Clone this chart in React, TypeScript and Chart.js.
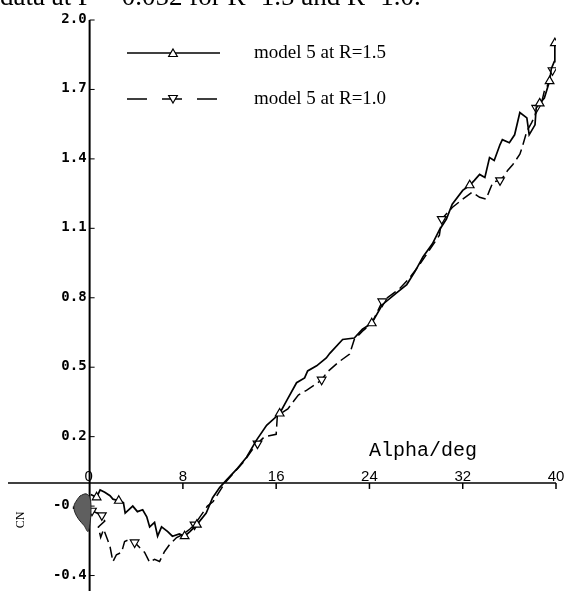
import React, { useEffect, useRef } from 'react';
import { Chart, registerables } from 'chart.js';

Chart.register(...registerables);

// Axis ticks
const alphaTicks = [0, 8, 16, 24, 32, 40];
const cnTicks = [2.0, 1.7, 1.4, 1.1, 0.8, 0.5, 0.2, -0.1, -0.4];

const caption = 'data at P = 0.052 for R=1.5 and R=1.0.';
const seriesLabels = ['model 5 at R=1.5', 'model 5 at R=1.0'];

// Model 5 at R=1.5: [alpha (deg), CN]
const model5R15: [number, number][] = [
  [0.1, -0.05], [0.6, -0.062], [0.9, -0.03], [1.3, -0.04], [1.75, -0.055], [2.0, -0.07],
  [2.5, -0.077], [2.9, -0.085], [3.05, -0.13], [3.7, -0.1], [4.1, -0.124], [4.55, -0.116],
  [4.9, -0.146], [5.15, -0.19], [5.57, -0.17], [5.83, -0.23], [6.17, -0.19], [6.7, -0.21],
  [7.1, -0.23], [7.7, -0.22], [8.15, -0.23], [8.6, -0.21], [9.2, -0.18], [10.0, -0.13],
  [10.55, -0.064], [11.15, -0.02], [11.75, 0.013], [12.7, 0.064], [13.46, 0.111], [14.3, 0.184],
  [15.18, 0.249], [16.3, 0.3], [16.9, 0.356], [17.75, 0.433], [18.44, 0.454], [18.7, 0.484],
  [19.47, 0.506], [20.3, 0.54], [20.6, 0.56], [21.7, 0.62], [22.7, 0.626], [23.4, 0.664],
  [24.2, 0.69], [25.1, 0.77], [26.3, 0.82], [27.2, 0.857], [27.9, 0.913], [28.6, 0.977],
  [29.4, 1.033], [30.0, 1.093], [30.6, 1.14], [31.1, 1.204], [32.0, 1.264], [32.6, 1.286],
  [33.0, 1.307], [33.45, 1.333], [33.9, 1.32], [34.3, 1.406], [34.7, 1.393], [35.2, 1.462],
  [35.4, 1.483], [36.0, 1.47], [36.45, 1.504], [36.9, 1.6], [37.5, 1.577], [37.7, 1.504],
  [38.2, 1.547], [38.3, 1.62], [38.6, 1.64], [39.0, 1.663], [39.45, 1.736], [39.6, 1.79],
  [39.85, 1.82], [39.9, 1.9],
];
const model5R15Marks = [0.6, 2.5, 8.15, 9.2, 16.3, 24.2, 32.6, 38.6, 39.45, 39.9];

// Model 5 at R=1.0: [alpha (deg), CN]
const model5R10: [number, number][] = [
  [0.2, -0.12], [1.05, -0.14], [1.3, -0.165], [0.75, -0.19], [0.95, -0.235], [1.2, -0.2],
  [1.5, -0.24], [1.75, -0.275], [2.0, -0.34], [2.3, -0.31], [2.74, -0.3], [3.0, -0.253],
  [3.43, -0.244], [3.86, -0.257], [4.29, -0.279], [4.72, -0.3], [5.15, -0.343], [5.57, -0.33],
  [6.0, -0.339], [6.43, -0.296], [6.86, -0.266], [7.46, -0.236], [7.98, -0.223], [8.58, -0.2],
  [9.0, -0.18], [9.6, -0.137], [10.1, -0.1], [10.6, -0.08], [11.6, 0.0], [12.3, 0.04],
  [13.2, 0.09], [13.9, 0.14], [14.4, 0.17], [15.0, 0.2], [16.0, 0.21], [16.1, 0.29],
  [17.0, 0.32], [17.9, 0.38], [18.6, 0.4], [19.5, 0.43], [19.9, 0.446], [20.4, 0.48],
  [21.3, 0.52], [22.3, 0.557], [22.7, 0.62], [23.4, 0.656], [24.2, 0.69], [25.1, 0.784],
  [26.6, 0.84], [27.4, 0.883], [28.3, 0.943], [29.2, 1.01], [30.0, 1.07], [30.2, 1.14],
  [31.1, 1.19], [32.0, 1.226], [32.8, 1.256], [33.45, 1.234], [34.0, 1.226], [34.3, 1.264],
  [34.6, 1.3], [35.2, 1.307], [35.6, 1.329], [35.85, 1.35], [36.3, 1.376], [36.9, 1.42],
  [37.1, 1.45], [37.5, 1.52], [37.9, 1.556], [38.2, 1.586], [38.3, 1.62], [38.8, 1.65],
  [39.0, 1.693], [39.3, 1.72], [39.45, 1.75], [39.7, 1.783], [40.0, 1.79],
];
const model5R10Marks = [0.2, 1.05, 3.86, 9.0, 14.4, 19.9, 25.1, 30.2, 35.2, 38.3, 39.7];

// Dense overlap of both traces at low incidence, drawn as a shaded loop
const overlapLoop: [number, number][] = [
  [-0.82, -0.056], [-0.31, -0.047], [0.03, -0.064], [0.12, -0.12], [0.03, -0.176],
  [-0.14, -0.21], [-0.48, -0.184], [-0.91, -0.159], [-1.25, -0.129], [-1.34, -0.099],
  [-1.08, -0.073], [-0.82, -0.056],
];

const toPoints = (s: [number, number][]) => s.map(([x, y]) => ({ x, y }));
const markRadii = (s: [number, number][], marks: number[]) =>
  s.map(([a]) => (marks.includes(a) ? 5 : 0));

function drawTriangle(ctx: CanvasRenderingContext2D, x: number, y: number, r: number, down: boolean) {
  const s = down ? -1 : 1;
  ctx.beginPath();
  ctx.moveTo(x, y - s * r);
  ctx.lineTo(x + 0.866 * r, y + s * 0.5 * r);
  ctx.lineTo(x - 0.866 * r, y + s * 0.5 * r);
  ctx.closePath();
  ctx.fillStyle = '#fff';
  ctx.fill();
  ctx.lineWidth = 1.2;
  ctx.setLineDash([]);
  ctx.stroke();
}

const crossedAxes = {
  id: 'crossedAxes',
  beforeDatasetsDraw(chart: any) {
    const { ctx } = chart;
    const xs = chart.scales.x;
    const ys = chart.scales.y;
    const x0 = xs.getPixelForValue(0);
    const y0 = ys.getPixelForValue(0);
    ctx.save();
    ctx.fillStyle = '#000';
    ctx.strokeStyle = '#000';

    // caption line running off the top edge
    ctx.font = '27px "Liberation Serif"';
    ctx.textAlign = 'left';
    ctx.textBaseline = 'alphabetic';
    ctx.fillText(caption, 0, 5);

    // vertical axis through alpha = 0
    ctx.lineWidth = 2;
    ctx.beginPath();
    ctx.moveTo(x0, ys.getPixelForValue(cnTicks[0]));
    ctx.lineTo(x0, chart.height);
    ctx.stroke();

    // horizontal axis through CN = 0
    ctx.lineWidth = 1.6;
    ctx.beginPath();
    ctx.moveTo(xs.left, y0);
    ctx.lineTo(xs.getPixelForValue(alphaTicks[alphaTicks.length - 1]), y0);
    ctx.stroke();

    // CN ticks and labels
    ctx.lineWidth = 1;
    ctx.font = 'bold 14px "DejaVu Sans Mono"';
    ctx.textAlign = 'right';
    cnTicks.forEach((v) => {
      const py = ys.getPixelForValue(v);
      ctx.beginPath();
      ctx.moveTo(x0, py);
      ctx.lineTo(x0 + 5, py);
      ctx.stroke();
      ctx.fillText(v.toFixed(1), x0 - 3, py + 3);
    });

    // alpha ticks and labels
    ctx.font = '15px "Liberation Sans"';
    ctx.textAlign = 'center';
    alphaTicks.forEach((v) => {
      const px = xs.getPixelForValue(v);
      if (v !== 0) {
        ctx.lineWidth = 1.5;
        ctx.beginPath();
        ctx.moveTo(px, y0);
        ctx.lineTo(px, y0 + 6);
        ctx.stroke();
      }
      ctx.fillText(String(v), v === 0 ? px - 1 : px, y0 - 2);
    });

    // axis titles
    ctx.font = '20px "Liberation Mono"';
    ctx.textBaseline = 'middle';
    ctx.fillText('Alpha/deg', 423, 451);

    ctx.save();
    ctx.translate(21, 520);
    ctx.rotate(-Math.PI / 2);
    ctx.font = '12px "Liberation Serif"';
    ctx.fillText('CN', 0, 0);
    ctx.restore();

    ctx.restore();
  },
  afterDatasetsDraw(chart: any) {
    const { ctx } = chart;
    ctx.save();
    ctx.strokeStyle = '#000';
    ctx.fillStyle = '#000';
    ctx.font = '19px "Liberation Serif"';
    ctx.textAlign = 'left';
    ctx.textBaseline = 'alphabetic';

    // solid entry
    ctx.lineWidth = 1.6;
    ctx.setLineDash([]);
    ctx.beginPath();
    ctx.moveTo(127, 53);
    ctx.lineTo(220, 53);
    ctx.stroke();
    drawTriangle(ctx, 173, 54, 5, false);
    ctx.fillStyle = '#000';
    ctx.fillText(seriesLabels[0], 254, 58);

    // dashed entry
    ctx.lineWidth = 1.6;
    ctx.setLineDash([20, 15]);
    ctx.beginPath();
    ctx.moveTo(127, 99);
    ctx.lineTo(220, 99);
    ctx.stroke();
    drawTriangle(ctx, 173, 98, 5, true);
    ctx.fillStyle = '#000';
    ctx.fillText(seriesLabels[1], 254, 104);
    ctx.restore();
  },
};

export default function App() {
  const canvasRef = useRef<HTMLCanvasElement | null>(null);

  useEffect(() => {
    document.body.style.margin = '0';
    const canvas = canvasRef.current;
    if (!canvas) return;
    const chart = new Chart(canvas, {
      type: 'scatter',
      data: {
        datasets: [
          {
            data: toPoints(overlapLoop),
            showLine: true,
            fill: 'shape',
            backgroundColor: '#5f5f5f',
            borderColor: '#222',
            borderWidth: 1,
            pointRadius: 0,
            tension: 0.35,
          },
          {
            label: seriesLabels[0],
            data: toPoints(model5R15),
            showLine: true,
            fill: false,
            borderColor: '#000',
            borderWidth: 1.7,
            tension: 0,
            pointStyle: 'triangle',
            pointRadius: markRadii(model5R15, model5R15Marks),
            pointBackgroundColor: '#fff',
            pointBorderColor: '#000',
            pointBorderWidth: 1.2,
          },
          {
            label: seriesLabels[1],
            data: toPoints(model5R10),
            showLine: true,
            fill: false,
            borderColor: '#000',
            borderWidth: 1.5,
            borderDash: [11, 5],
            tension: 0,
            pointStyle: 'triangle',
            pointRotation: 180,
            pointRadius: markRadii(model5R10, model5R10Marks),
            pointBackgroundColor: '#fff',
            pointBorderColor: '#000',
            pointBorderWidth: 1.2,
          },
        ],
      },
      options: {
        animation: false,
        responsive: false,
        devicePixelRatio: 1,
        events: [],
        layout: { padding: { left: 8, right: 10, top: 20, bottom: 2 } },
        scales: {
          x: { type: 'linear', min: -7, max: 40, display: false },
          y: { type: 'linear', min: -0.44, max: 2.0, display: false },
        },
        plugins: {
          legend: { display: false },
          tooltip: { enabled: false },
        },
      },
      plugins: [crossedAxes],
    } as any);
    return () => chart.destroy();
  }, []);

  return (
    <div style={{ width: 566, height: 591, background: '#fff' }}>
      <canvas ref={canvasRef} width={566} height={591} />
    </div>
  );
}
